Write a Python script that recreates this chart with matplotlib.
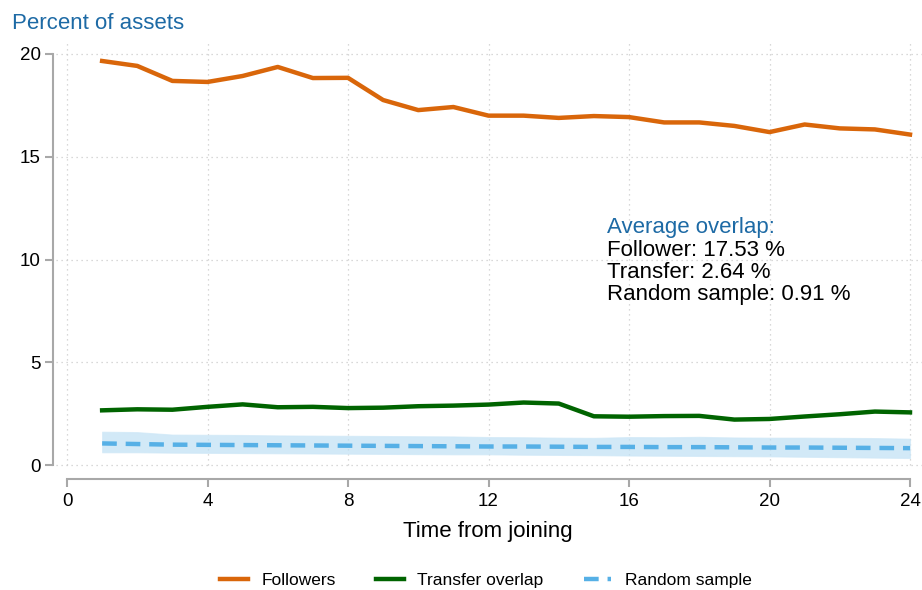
import matplotlib
matplotlib.use("Agg")
import matplotlib.pyplot as plt
import numpy as np

plt.rcParams['font.family'] = ['Liberation Sans', 'DejaVu Sans']

months = list(range(1, 25))
followers = [19.66, 19.42, 18.69, 18.64, 18.93, 19.37, 18.83, 18.84, 17.76, 17.27,
             17.42, 17.00, 17.00, 16.89, 16.98, 16.93, 16.67, 16.67, 16.50, 16.20,
             16.57, 16.38, 16.33, 16.08]
transfer = [2.66, 2.71, 2.69, 2.83, 2.95, 2.81, 2.83, 2.77, 2.79, 2.86,
            2.89, 2.94, 3.04, 2.99, 2.37, 2.35, 2.38, 2.39, 2.21, 2.24,
            2.36, 2.47, 2.60, 2.56]
random_mean = [1.05, 1.02, 0.99, 0.98, 0.97, 0.96, 0.95, 0.94, 0.93, 0.92,
               0.91, 0.90, 0.90, 0.89, 0.88, 0.88, 0.87, 0.87, 0.86, 0.85,
               0.85, 0.84, 0.83, 0.82]
random_hi = [1.62, 1.60, 1.48, 1.47, 1.46, 1.44, 1.43, 1.42, 1.41, 1.40,
             1.39, 1.36, 1.35, 1.33, 1.32, 1.36, 1.35, 1.37, 1.34, 1.33,
             1.33, 1.32, 1.31, 1.28]
random_lo = [0.62, 0.62, 0.60, 0.59, 0.58, 0.57, 0.56, 0.55, 0.54, 0.53,
             0.52, 0.52, 0.50, 0.49, 0.48, 0.46, 0.45, 0.44, 0.43, 0.42,
             0.40, 0.38, 0.36, 0.34]
xticks = [0, 4, 8, 12, 16, 20, 24]
yticks = [0, 5, 10, 15, 20]
annot_title = "Average overlap:"
annot_lines = ["Follower: 17.53 %", "Transfer: 2.64 %", "Random sample: 0.91 %"]

c_orange = '#d9660a'
c_green = '#006400'
c_blue = '#56b0e6'
c_title = '#1d6aa5'
c_axis = '#a8a8a8'

fig = plt.figure(figsize=(9.22, 5.9), dpi=100)
W, H = 922, 590
left, right, top, bottom = 53, 922, 42, 479
ax = fig.add_axes([left / W, 1 - bottom / H, (right - left) / W, (bottom - top) / H])

x0px, x24px = 67, 910
ux = (x24px - x0px) / 24
y0px, y20px = 465, 54
uy = (y0px - y20px) / 20
ax.set_xlim((left - x0px) / ux, (right - x0px) / ux)
ax.set_ylim((y0px - bottom) / uy, (y0px - top) / uy)

# grid
ylim_top = ax.get_ylim()[1]
for xt in xticks:
    ax.plot([xt, xt], [0, ylim_top], color='#cccccc', lw=0.9, ls=(0, (1, 3)), zorder=0)
for yt in yticks:
    ax.axhline(yt, color='#cccccc', lw=0.9, ls=(0, (1, 3)), xmin=0.003, zorder=0)

ax.fill_between(months, random_lo, random_hi, color='#bfe0f4', alpha=0.7, lw=0.8,
                edgecolor='#cfe8f7', zorder=1)
ax.plot(months, followers, color=c_orange, lw=3.2, label='Followers', zorder=3)
ax.plot(months, transfer, color=c_green, lw=3.2, label='Transfer overlap', zorder=3)
ax.plot(months, random_mean, color=c_blue, lw=3.2, ls=(0, (3.3, 2.0)),
        label='Random sample', zorder=3)

for s in ['top', 'right']:
    ax.spines[s].set_visible(False)
ax.spines['left'].set_bounds(0, 20)
ax.spines['bottom'].set_bounds(0, 24)
for s in ['left', 'bottom']:
    ax.spines[s].set_color(c_axis)
    ax.spines[s].set_linewidth(1.5)
ax.set_xticks(xticks)
ax.set_yticks(yticks)
ax.tick_params(axis='both', colors=c_axis, labelcolor='black', labelsize=13.5,
               length=6, width=1.5, direction='out')
ax.tick_params(axis='x', pad=4)
ax.tick_params(axis='y', pad=3)

ax.set_xlabel('Time from joining', fontsize=16, labelpad=8)
fig.text(12 / W, 1 - 29 / H, 'Percent of assets', fontsize=16, color=c_title,
         ha='left', va='baseline')

fig.text(607 / W, 1 - 233 / H, annot_title, fontsize=16, color=c_title,
         ha='left', va='baseline')
for i, t in enumerate(annot_lines):
    fig.text(607 / W, 1 - (255.5 + 22.3 * i) / H, t, fontsize=16, color='black',
             ha='left', va='baseline')

leg = fig.legend(loc='center', bbox_to_anchor=(486 / W, 1 - 580 / H), ncol=3,
                 frameon=False, fontsize=12.5, handlelength=1.6, columnspacing=2.3,
                 handletextpad=0.8)

fig.savefig('out.png', dpi=100)
